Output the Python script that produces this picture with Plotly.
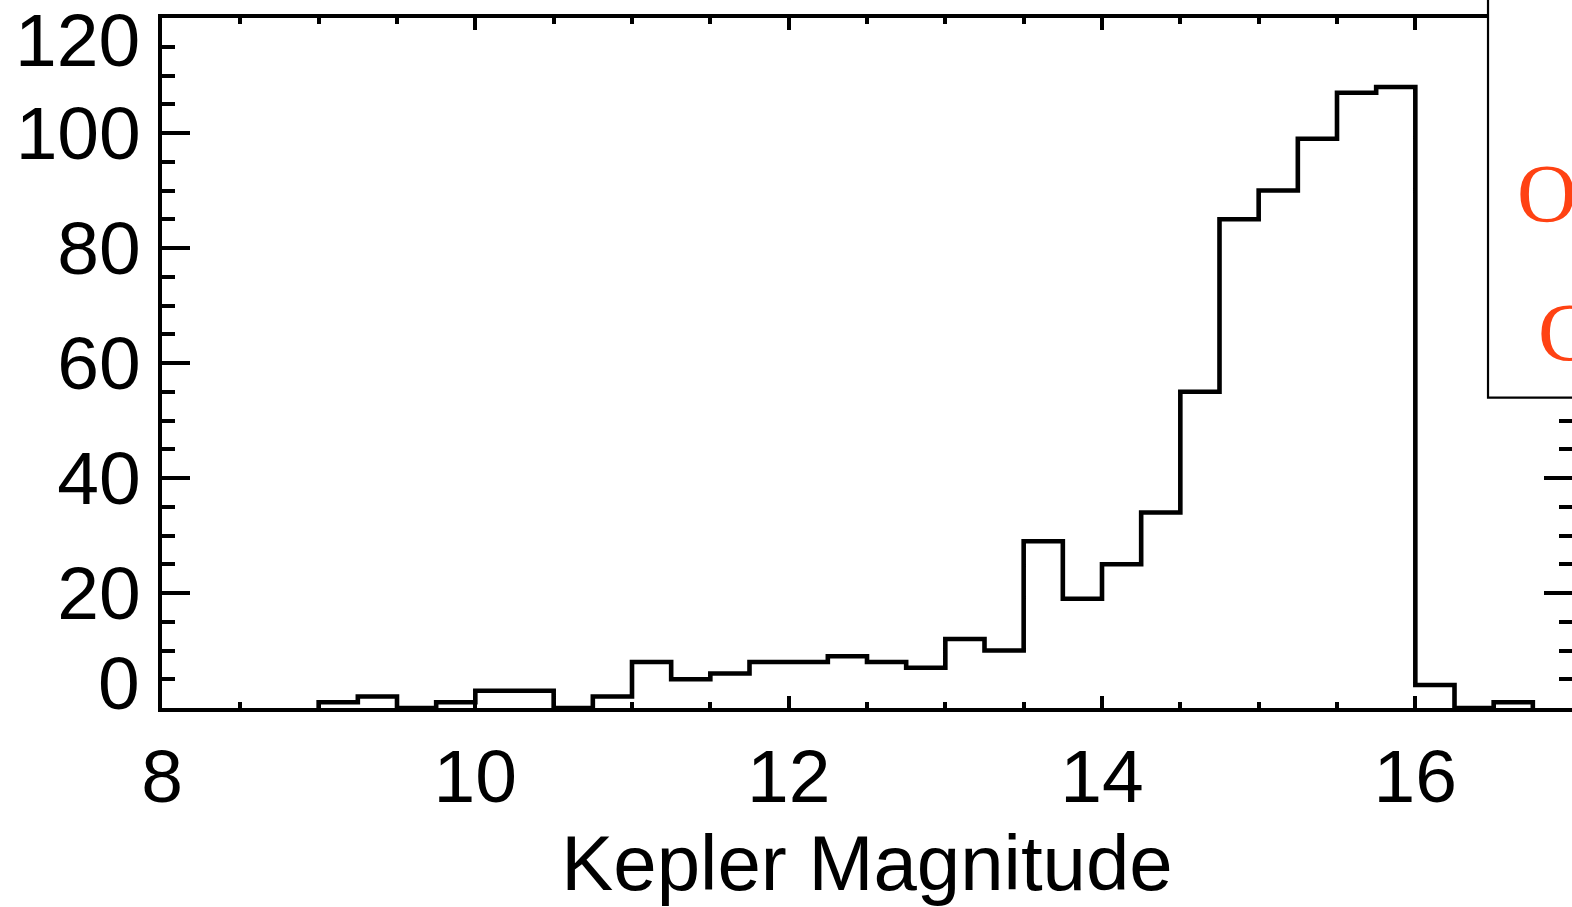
import plotly.graph_objects as go

# Histogram data (bin width 0.25 mag)
bin_left = [9.0, 9.25, 9.5, 9.75, 10.0, 10.25, 10.5, 10.75, 11.0, 11.25, 11.5, 11.75,
            12.0, 12.25, 12.5, 12.75, 13.0, 13.25, 13.5, 13.75, 14.0, 14.25, 14.5, 14.75,
            15.0, 15.25, 15.5, 15.75, 16.0, 16.25, 16.5]
counts = [1, 2, 0, 1, 3, 3, 0, 2, 8, 5, 6, 8,
          8, 9, 8, 7, 12, 10, 29, 19, 25, 34, 55, 85,
          90, 99, 107, 108, 4, 0, 1]
last_edge = 16.75

y_major = [0, 20, 40, 60, 80, 100, 120]
y_major_text = ["", "20", "40", "60", "80", "100", ""]
y_minor = [v for v in range(0, 121, 5)]
x_major = [8, 10, 12, 14, 16]
x_minor = [8 + 0.5 * i for i in range(19)]

# step line points
xs = [bin_left[0]] + bin_left + [last_edge]
ys = [0] + counts + [0]

fig = go.Figure()
fig.add_trace(go.Scatter(x=xs, y=ys, mode="lines", line=dict(shape="hv", color="black", width=4.6),
                         showlegend=False, hoverinfo="skip"))

W, H = 1572, 907
L, R, T, B = 161.7, 0, 18.3, 198.7

fnt = dict(family="Liberation Sans, Arial, Helvetica, sans-serif", size=75, color="black")

fig.update_layout(
    width=W, height=H,
    margin=dict(l=L, r=R, t=T, b=B, pad=0, autoexpand=False),
    paper_bgcolor="white", plot_bgcolor="white",
    font=fnt,
    xaxis=dict(range=[8, 17], tickmode="array", tickvals=x_major, ticktext=[str(v) for v in x_major],
               showline=True, linecolor="black", linewidth=4.4, mirror="allticks",
               ticks="inside", ticklen=12, tickwidth=3.8, tickcolor="black",
               minor=dict(tickmode="array", tickvals=x_minor, ticks="inside", ticklen=6, tickwidth=3.8, tickcolor="black"),
               showgrid=False, zeroline=False, tickfont=fnt, ticklabelstandoff=0, automargin=False,
               title=dict(text="Kepler Magnitude", font=dict(family=fnt["family"], size=78, color="black"), standoff=34)),
    yaxis=dict(range=[0, 120], tickmode="array", tickvals=y_major, ticktext=y_major_text,
               showline=True, linecolor="black", linewidth=4.4, mirror="allticks",
               ticks="inside", ticklen=28, tickwidth=3.8, tickcolor="black",
               minor=dict(tickmode="array", tickvals=y_minor, ticks="inside", ticklen=13, tickwidth=3.8, tickcolor="black"),
               showgrid=False, zeroline=False, tickfont=fnt, ticklabelstandoff=2, automargin=False),
)

# shifted end labels of the y axis (kept inside the frame as in the original)
fig.add_annotation(x=0, xref="paper", y=0, yref="y", text="0", showarrow=False,
                   xanchor="right", yanchor="middle", xshift=-20, yshift=25, font=fnt)
fig.add_annotation(x=0, xref="paper", y=120, yref="y", text="120", showarrow=False,
                   xanchor="right", yanchor="middle", xshift=-20, yshift=-22, font=fnt)

# legend-like box on the right, partly cut off
pw = W - L - R
ph = H - T - B
def px_x(p):
    return (p - L) / pw
def px_y(p):
    return (H - B - p) / ph

fig.add_shape(type="rect", xref="paper", yref="paper",
              x0=px_x(1488), x1=px_x(1640), y0=px_y(398), y1=px_y(-20),
              line=dict(color="black", width=2.2), fillcolor="white", layer="above")

red = "#FF4213"
sfont = dict(family="Liberation Serif, Times New Roman, serif", size=83, color=red)
fig.add_annotation(x=px_x(1515), xref="paper", y=px_y(193), yref="paper", text="O", showarrow=False,
                   xanchor="left", yanchor="middle", font=sfont)
fig.add_annotation(x=px_x(1536), xref="paper", y=px_y(332), yref="paper", text="C", showarrow=False,
                   xanchor="left", yanchor="middle", font=sfont)

fig.write_html("out.html")
